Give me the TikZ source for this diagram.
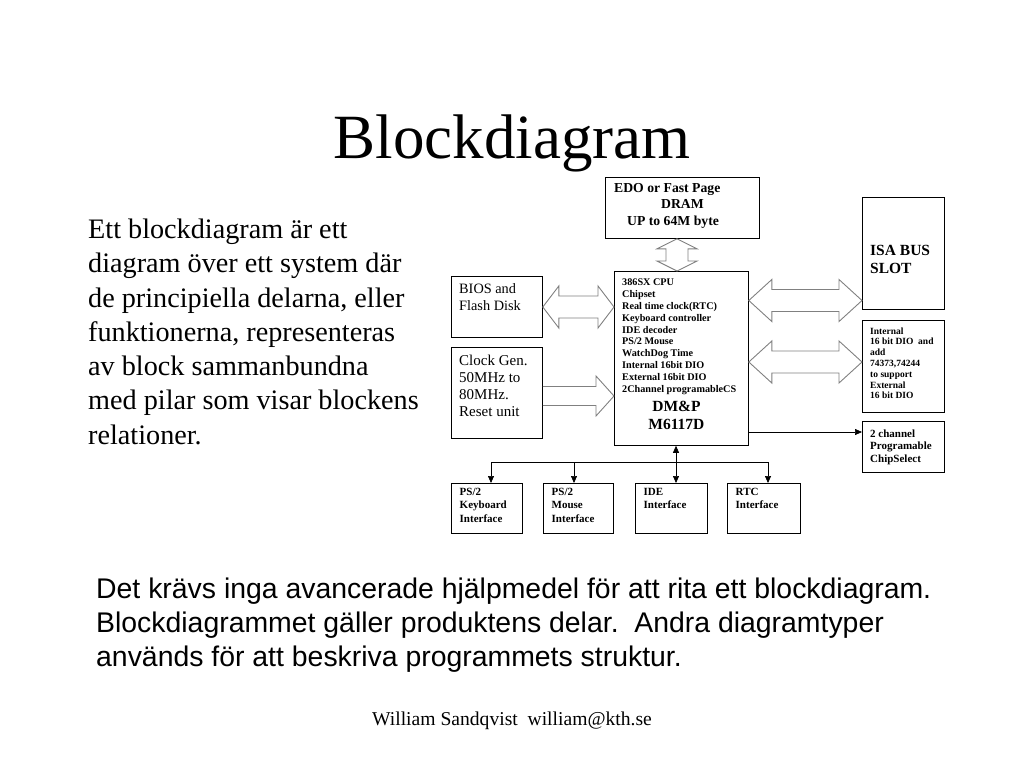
\documentclass[tikz,border=0pt]{standalone}
\usepackage{fontspec}
\setmainfont{Liberation Serif}
\newfontfamily\slidesans{Liberation Sans}
\usetikzlibrary{arrows.meta, calc}
\definecolor{hollowgray}{rgb}{0.5,0.5,0.5}
\frenchspacing

% hollow double arrow: left tip, right tip, head length
\newcommand{\busdarrow}[3]{%
  \draw[hollow] (#1) -- ++(#3,-21) -- ++(0,10) -- ($(#2)+(-#3,-11)$) -- ++(0,-10) -- (#2)
    -- ++(-#3,21) -- ++(0,-10) -- ($(#1)+(#3,11)$) -- ++(0,10) -- cycle;}

\begin{document}
\begin{tikzpicture}[x=1pt, y=-1pt,
    box/.style={draw, line width=0.8pt, fill=white, anchor=north west, inner sep=0pt},
    boxtext/.style={anchor=north west, inner sep=0pt, align=left},
    hollow/.style={draw=hollowgray, line width=0.9pt, line join=miter},
    arrow/.style={-{Triangle[length=7pt, width=6pt]}, line width=0.7pt},
    heading/.style={font=\fontsize{63}{70}\selectfont},
    para/.style={anchor=north west, inner sep=0pt, align=left, font=\fontsize{28.2}{34.3}\selectfont},
    sanspara/.style={anchor=north west, inner sep=0pt, align=left, font=\slidesans\fontsize{28.4}{34.2}\selectfont},
    smallbold/.style={font=\fontsize{10.2}{11.9}\selectfont\bfseries},
    ifbold/.style={font=\fontsize{11}{13.5}\selectfont\bfseries}
]
\useasboundingbox (0,0) rectangle (1024,768);

% slide texts
\node[heading, anchor=base] (heading) at (512,158) {Blockdiagram};
\node[para] (intro) at (88,218.7) {Ett blockdiagram är ett\\diagram över ett system där\\de principiella delarna, eller\\funktionerna, representeras\\av block sammanbundna\\med pilar som visar blockens\\relationer.};
\node[sanspara] (note) at (96,577.3) {Det krävs inga avancerade hjälpmedel för att rita ett blockdiagram.\\Blockdiagrammet gäller produktens delar.~ Andra diagramtyper\\används för att beskriva programmets struktur.};
\node[anchor=base, font=\fontsize{19.6}{22}\selectfont] (footer) at (512,725) {William Sandqvist~ william@kth.se};

% blocks
\node[box, minimum width=154, minimum height=61] (dram) at (605,177) {};
\node[box, minimum width=134, minimum height=174] (cpu) at (614,271) {};
\node[box, minimum width=91, minimum height=61] (bios) at (451,276) {};
\node[box, minimum width=91, minimum height=91] (clock) at (451,347) {};
\node[box, minimum width=82, minimum height=112] (isa) at (862,197) {};
\node[box, minimum width=82, minimum height=92] (dio) at (862,320) {};
\node[box, minimum width=82, minimum height=51] (chipsel) at (862,421) {};
\node[box, minimum width=71, minimum height=50] (kbd) at (451,483) {};
\node[box, minimum width=70, minimum height=50] (mouse) at (543,483) {};
\node[box, minimum width=72, minimum height=50] (ide) at (635,483) {};
\node[box, minimum width=73, minimum height=50] (rtc) at (727,483) {};

% block texts
\node[boxtext, font=\fontsize{13.7}{16.5}\selectfont\bfseries] (dramtxt) at ($(dram.north west)+(9,6)$)
  {EDO or Fast Page\\\hspace*{47pt}DRAM\\\hspace*{13pt}UP to 64M byte};
\node[boxtext, smallbold] (cputxt) at ($(cpu.north west)+(8,7.5)$)
  {386SX CPU\\Chipset\\Real time clock(RTC)\\Keyboard controller\\IDE decoder\\PS/2 Mouse\\WatchDog Time\\Internal 16bit DIO\\External 16bit DIO\\2Channel programableCS};
\node[anchor=north, inner sep=0pt, align=center, font=\fontsize{15.5}{18.5}\selectfont\bfseries] (cpuname) at ($(cpu.north)+(-5,129.5)$)
  {DM\&P\\M6117D};
\node[boxtext, font=\fontsize{14.3}{16.5}\selectfont] (biostxt) at ($(bios.north west)+(8,7.5)$)
  {BIOS and\\Flash Disk};
\node[boxtext, font=\fontsize{15}{17}\selectfont] (clocktxt) at ($(clock.north west)+(8,7.5)$)
  {Clock Gen.\\50MHz to\\80MHz.\\Reset unit};
\node[boxtext, font=\fontsize{15.5}{18}\selectfont\bfseries] (isatxt) at ($(isa.north west)+(8,48)$)
  {ISA BUS\\SLOT};
\node[boxtext, font=\fontsize{9.5}{10.8}\selectfont\bfseries] (diotxt) at ($(dio.north west)+(8,7.3)$)
  {Internal\\16 bit DIO~ and\\add\\74373,74244\\to support\\External\\16 bit DIO};
\node[boxtext, font=\fontsize{11}{12.3}\selectfont\bfseries] (chiptxt) at ($(chipsel.north west)+(8,8.8)$)
  {2 channel\\Programable\\ChipSelect};
\node[boxtext, ifbold] (kbdtxt) at ($(kbd.north west)+(8.5,5)$) {PS/2\\Keyboard\\Interface};
\node[boxtext, ifbold] (mousetxt) at ($(mouse.north west)+(8.5,5)$) {PS/2\\Mouse\\Interface};
\node[boxtext, ifbold] (idetxt) at ($(ide.north west)+(8.5,5)$) {IDE\\Interface};
\node[boxtext, ifbold] (rtctxt) at ($(rtc.north west)+(8.5,5)$) {RTC\\Interface};

% hollow bus arrows
\draw[hollow] (dram.south -| 677,0) -- ++(20,10) -- ++(-9,0) -- ($(cpu.north -| 677,0)+(11,-10)$) -- ++(9,0)
  -- (cpu.north -| 677,0) -- ++(-20,-10) -- ++(9,0) -- ($(dram.south -| 677,0)+(-11,10)$) -- ++(-9,0) -- cycle;
\busdarrow{bios.east |- 0,307}{cpu.west |- 0,307}{16}
\busdarrow{cpu.east |- 0,300.5}{isa.west |- 0,300.5}{23}
\busdarrow{cpu.east |- 0,362}{dio.west |- 0,362}{23}
\draw[hollow] (clock.east |- 0,386.5) -- ($(cpu.west |- 0,386.5)+(-18,0)$) -- ++(0,-10.5) -- (cpu.west |- 0,396)
  -- ++(-18,20) -- ++(0,-10.5) -- (clock.east |- 0,405.5);

% signal lines
\draw[arrow] (cpu.east |- 0,432) -- (chipsel.west |- 0,432);
\coordinate (busA) at (491,462);
\coordinate (busB) at (574,462);
\coordinate (busD) at (768,462);
\draw[line width=0.7pt] (busA) -- (busD);
\draw[arrow] (busA) -- (busA |- kbd.north);
\draw[arrow] (busB) -- (busB |- mouse.north);
\draw[arrow] (busD) -- (busD |- rtc.north);
\draw[arrow, {Triangle[length=7pt, width=6pt]}-{Triangle[length=7pt, width=6pt]}] (cpu.south -| 676,0) -- (ide.north -| 676,0);

\end{tikzpicture}
\end{document}
